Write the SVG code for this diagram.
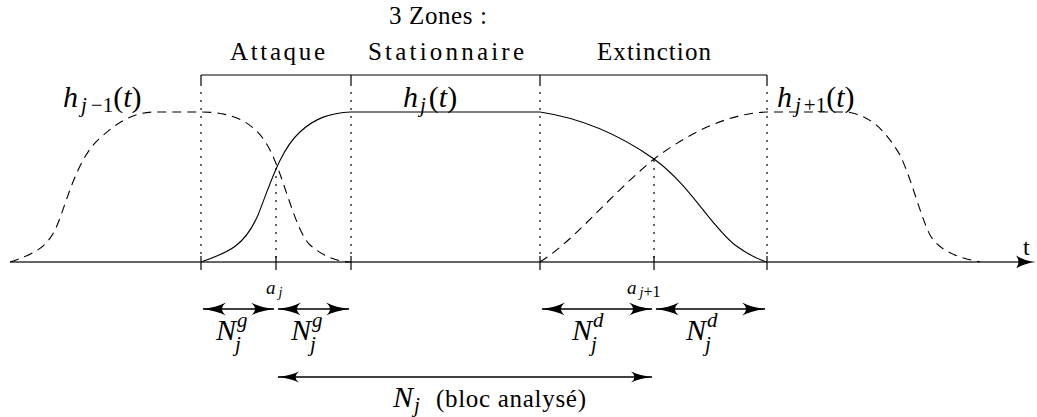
<svg xmlns="http://www.w3.org/2000/svg" width="1037" height="417" viewBox="0 0 1037 417">
<style>
text{font-family:"Liberation Serif","Times New Roman",serif;fill:#000}
.lab{font-size:25px}
.m{font-size:30px}
.it{font-style:italic}
.sub{font-size:21px}
.dash{fill:none;stroke:#000;stroke-width:1.1;stroke-dasharray:9 6}
.solid{fill:none;stroke:#000;stroke-width:1.1}
.dot{fill:none;stroke:#000;stroke-width:1.2;stroke-dasharray:2 6}
.tick{fill:none;stroke:#000;stroke-width:1.2}
.arr{fill:none;stroke:#000;stroke-width:1.3}
</style>
<defs>
<marker id="ah" markerUnits="userSpaceOnUse" markerWidth="26" markerHeight="16" refX="23" refY="8" orient="auto-start-reverse" viewBox="0 0 26 16">
<path d="M0,1.5 Q10,6.5 24,8 Q10,9.5 0,14.5 Q8,8 0,1.5 Z" fill="#000"/>
</marker>
<marker id="ahs" markerUnits="userSpaceOnUse" markerWidth="24" markerHeight="14" refX="21" refY="7" orient="auto-start-reverse" viewBox="0 0 24 14">
<path d="M0,1.5 Q9,5.8 22,7 Q9,8.2 0,12.5 Q7,7 0,1.5 Z" fill="#000"/>
</marker>
</defs>

<g id="axis">
<line x1="10" y1="262" x2="1022" y2="262" stroke="#666" stroke-width="2"/>
<path d="M1036,262 Q1025,263 1016,268.5 Q1021,262 1016,255.5 Q1025,261 1036,262 Z" fill="#000"/>
<text x="1023" y="255" font-size="24">t</text>
</g>

<g id="zones">
<text x="389" y="24" class="lab" textLength="98">3 Zones :</text>
<text x="230" y="60" class="lab" textLength="95">Attaque</text>
<text x="368" y="60" class="lab" textLength="156">Stationnaire</text>
<text x="597" y="60" class="lab" textLength="114">Extinction</text>
<path class="tick" d="M201,75 L767,75 M201,75 V84 M351,75 V84 M540,75 V84 M767,75 V84"/>
</g>

<g id="guides">
<path class="dot" d="M201,84 V258 M351,84 V258 M540,84 V258 M767,84 V258 M276,168 V258 M654,160 V258"/>
<path class="tick" d="M201,256 V270 M276,256 V270 M351,256 V270 M540,256 V270 M654,256 V270 M767,256 V270"/>
</g>

<g id="h_jm1">
<path class="dash" d="M10,262 C30,255 45,250 55,230 C65,210 75,160 100,138 C120,120 135,112 155,112 L201,112 C230,112 255,120 270,150 C285,180 295,230 310,245 C325,258 340,262 351,262"/>
<text x="63" y="107" class="m"><tspan class="it">h</tspan><tspan class="sub it" dx="3" dy="5">j</tspan><tspan class="sub" dx="4">−1</tspan><tspan dy="-5">(</tspan><tspan class="it">t</tspan>)</text>
</g>

<g id="h_j">
<path class="solid" d="M201,262 C230,252 245,245 258,215 C270,185 280,150 300,132 C315,118 330,113 351,112 L540,112 C580,118 620,135 654,159 C690,185 710,225 735,245 C750,256 760,260 767,262"/>
<text x="403" y="107" class="m"><tspan class="it">h</tspan><tspan class="sub it" dx="2" dy="5">j</tspan><tspan dy="-5" dx="3">(</tspan><tspan class="it">t</tspan>)</text>
</g>

<g id="h_jp1">
<path class="dash" d="M540,262 C575,240 610,195 654,159 C690,132 730,113 767,112 L847,112 C870,115 885,130 900,155 C912,180 920,215 930,235 C940,252 960,258 980,262"/>
<text x="777" y="107" class="m"><tspan class="it">h</tspan><tspan class="sub it" dx="3" dy="5">j</tspan><tspan class="sub" dx="3">+1</tspan><tspan dy="-5">(</tspan><tspan class="it">t</tspan>)</text>
</g>

<g id="labels_a">
<text x="266" y="294" font-size="19"><tspan class="it">a</tspan><tspan class="it" font-size="14" dx="3" dy="3">j</tspan></text>
<text x="627" y="294" font-size="19"><tspan class="it">a</tspan><tspan class="it" font-size="14" dx="3" dy="3">j</tspan><tspan font-size="16">+1</tspan></text>
</g>

<g id="connectors">
<line class="arr" x1="203" y1="309" x2="274" y2="309" marker-start="url(#ah)" marker-end="url(#ah)"/>
<line class="arr" x1="278" y1="309" x2="349" y2="309" marker-start="url(#ah)" marker-end="url(#ah)"/>
<line class="arr" x1="542" y1="309" x2="652" y2="309" marker-start="url(#ah)" marker-end="url(#ah)"/>
<line class="arr" x1="656" y1="309" x2="765" y2="309" marker-start="url(#ah)" marker-end="url(#ah)"/>
<line class="arr" x1="278" y1="377" x2="652" y2="377" marker-start="url(#ahs)" marker-end="url(#ahs)"/>
</g>

<g id="labels_N">
<text x="216" y="340" class="m"><tspan class="it">N</tspan><tspan class="sub it" dx="1" dy="-13">g</tspan></text>
<text x="235" y="351" class="sub it">j</text>
<text x="291" y="340" class="m"><tspan class="it">N</tspan><tspan class="sub it" dx="1" dy="-13">g</tspan></text>
<text x="310" y="351" class="sub it">j</text>
<text x="572" y="340" class="m"><tspan class="it">N</tspan><tspan class="sub it" dx="1" dy="-13">d</tspan></text>
<text x="591" y="351" class="sub it">j</text>
<text x="686" y="340" class="m"><tspan class="it">N</tspan><tspan class="sub it" dx="1" dy="-13">d</tspan></text>
<text x="705" y="351" class="sub it">j</text>
<text x="393" y="407" class="m"><tspan class="it">N</tspan><tspan class="sub it" dx="1" dy="5">j</tspan></text>
<text x="436" y="407" class="lab" font-size="26" textLength="150">(bloc analysé)</text>
</g>
</svg>
